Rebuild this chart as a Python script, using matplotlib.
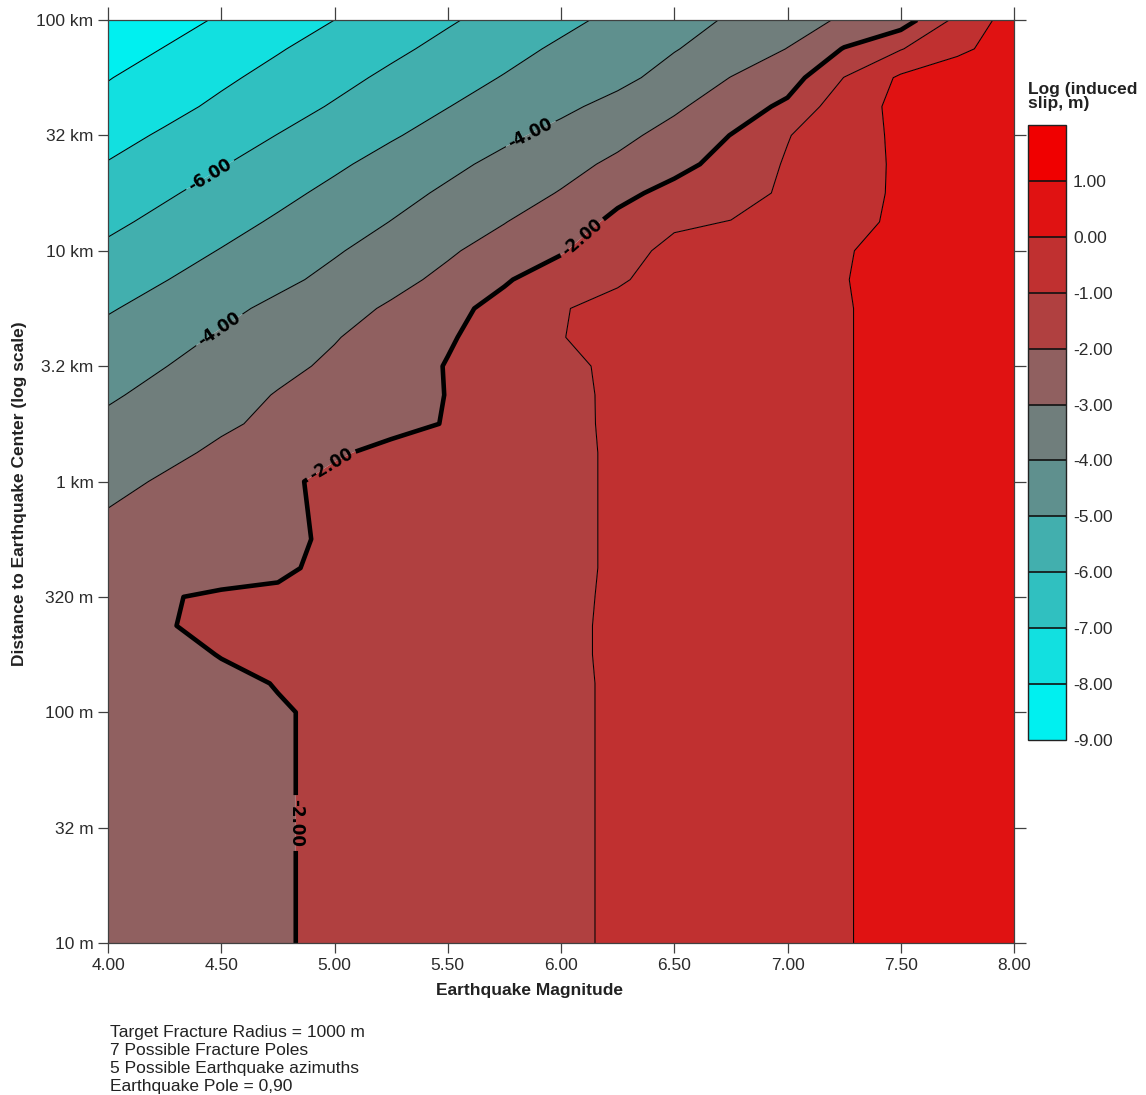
import matplotlib
matplotlib.use("Agg")
import matplotlib.pyplot as plt

plt.rcParams['font.family'] = ['Liberation Sans', 'DejaVu Sans']
plt.rcParams['axes.unicode_minus'] = False
plt.rcParams['contour.negative_linestyle'] = 'solid'

# Earthquake magnitude (columns of the grid)
magnitudes = [4.0, 4.25, 4.5, 4.75, 5.0, 5.25, 5.5, 5.75, 6.0,
              6.25, 6.5, 6.75, 7.0, 7.25, 7.5, 7.75, 8.0]

# log10 of distance to the earthquake centre in metres (rows of the grid)
log_distance = [1.0, 2.0, 2.125, 2.25, 2.375, 2.5, 2.625, 2.75, 2.875,
                3.0, 3.125, 3.25, 3.375, 3.5, 3.625, 3.75, 3.875,
                4.0, 4.125, 4.25, 4.375, 4.5, 4.625, 4.75, 4.875, 5.0]

# log10 of induced slip (m), one row per distance
log_slip = [
    [-2.62, -2.44, -2.25, -2.06, -1.87, -1.68, -1.49, -1.30, -1.12, -0.92, -0.72, -0.50, -0.27, -0.04, 0.20, 0.40, 0.60],
    [-2.62, -2.44, -2.25, -2.06, -1.87, -1.68, -1.49, -1.30, -1.12, -0.92, -0.72, -0.50, -0.27, -0.04, 0.20, 0.40, 0.60],
    [-2.55, -2.38, -2.18, -1.97, -1.80, -1.64, -1.47, -1.30, -1.12, -0.92, -0.72, -0.50, -0.27, -0.04, 0.20, 0.40, 0.60],
    [-2.45, -2.25, -1.97, -1.80, -1.66, -1.52, -1.40, -1.26, -1.10, -0.92, -0.72, -0.50, -0.27, -0.04, 0.20, 0.40, 0.60],
    [-2.35, -2.04, -1.85, -1.72, -1.60, -1.48, -1.37, -1.24, -1.10, -0.92, -0.72, -0.50, -0.27, -0.04, 0.20, 0.40, 0.60],
    [-2.30, -2.01, -1.98, -1.97, -1.85, -1.70, -1.55, -1.38, -1.12, -0.92, -0.72, -0.50, -0.27, -0.04, 0.20, 0.40, 0.60],
    [-2.55, -2.25, -2.06, -2.03, -1.955, -1.80, -1.62, -1.42, -1.13, -0.93, -0.72, -0.50, -0.27, -0.04, 0.20, 0.40, 0.60],
    [-2.78, -2.45, -2.25, -2.10, -1.93, -1.78, -1.60, -1.40, -1.13, -0.93, -0.72, -0.50, -0.27, -0.04, 0.20, 0.40, 0.60],
    [-2.98, -2.62, -2.40, -2.20, -1.82, -1.70, -1.56, -1.38, -1.13, -0.93, -0.72, -0.50, -0.27, -0.04, 0.20, 0.40, 0.60],
    [-3.25, -2.90, -2.52, -2.13, -1.85, -1.70, -1.54, -1.37, -1.13, -0.93, -0.72, -0.50, -0.27, -0.04, 0.20, 0.40, 0.60],
    [-3.50, -3.20, -2.85, -2.45, -2.07, -1.85, -1.65, -1.42, -1.13, -0.93, -0.72, -0.50, -0.27, -0.04, 0.20, 0.40, 0.60],
    [-3.80, -3.45, -3.12, -2.82, -2.50, -2.17, -1.97, -1.60, -1.14, -0.91, -0.72, -0.50, -0.27, -0.04, 0.20, 0.40, 0.60],
    [-4.12, -3.72, -3.35, -2.95, -2.62, -2.30, -1.98, -1.62, -1.15, -0.90, -0.72, -0.50, -0.27, -0.04, 0.20, 0.40, 0.60],
    [-4.42, -4.02, -3.62, -3.22, -2.85, -2.40, -1.96, -1.62, -1.17, -0.85, -0.70, -0.50, -0.27, -0.04, 0.20, 0.40, 0.60],
    [-4.72, -4.32, -3.90, -3.48, -3.05, -2.62, -2.08, -1.62, -1.02, -0.78, -0.62, -0.50, -0.27, -0.04, 0.20, 0.40, 0.60],
    [-5.08, -4.66, -4.22, -3.80, -3.35, -2.88, -2.22, -1.75, -1.04, -0.80, -0.62, -0.50, -0.27, -0.04, 0.20, 0.40, 0.60],
    [-5.45, -5.03, -4.61, -4.20, -3.78, -3.28, -2.78, -2.08, -1.55, -1.08, -0.72, -0.50, -0.27, -0.02, 0.20, 0.40, 0.60],
    [-5.82, -5.40, -4.96, -4.52, -4.08, -3.65, -3.12, -2.60, -2.08, -1.30, -0.80, -0.52, -0.28, -0.04, 0.18, 0.38, 0.58],
    [-6.20, -5.76, -5.33, -4.88, -4.45, -3.98, -3.48, -3.03, -2.45, -1.80, -1.12, -0.98, -0.55, -0.20, 0.12, 0.38, 0.58],
    [-6.55, -6.12, -5.68, -5.24, -4.78, -4.32, -3.85, -3.40, -2.95, -2.22, -1.75, -1.30, -0.88, -0.32, 0.12, 0.40, 0.60],
    [-6.95, -6.50, -6.05, -5.60, -5.15, -4.68, -4.22, -3.75, -3.30, -2.82, -2.25, -1.70, -0.90, -0.35, 0.12, 0.40, 0.60],
    [-7.33, -6.88, -6.43, -5.98, -5.53, -5.09, -4.64, -4.18, -3.72, -3.25, -2.68, -1.98, -1.05, -0.30, 0.12, 0.40, 0.60],
    [-7.72, -7.28, -6.82, -6.37, -5.92, -5.47, -5.02, -4.58, -4.20, -3.70, -3.15, -2.50, -1.80, -0.40, 0.20, 0.42, 0.60],
    [-8.04, -7.60, -7.16, -6.72, -6.27, -5.82, -5.38, -4.95, -4.55, -4.25, -3.65, -2.98, -2.45, -0.98, 0.15, 0.42, 0.60],
    [-8.42, -7.97, -7.52, -7.07, -6.62, -6.19, -5.75, -5.30, -4.85, -4.45, -4.05, -3.55, -2.98, -1.95, -1.05, -0.15, 0.35],
    [-8.80, -8.35, -7.90, -7.45, -7.00, -6.55, -6.10, -5.67, -5.23, -4.78, -4.35, -3.90, -3.42, -2.88, -2.50, -0.75, 0.45],
]

# colour classes for log slip
slip_levels = [-9, -8, -7, -6, -5, -4, -3, -2, -1, 0, 1, 2]
level_colors = ['#00F0F0', '#12E0E0', '#30C0C0', '#42AFAE', '#5F908E', '#707E7C',
                '#906060', '#B04040', '#C03030', '#E01212', '#F00000']
plain_levels = [-8, -7, -5, -3, -1, 0]
labelled_thin_levels = [-6, -4]
bold_level = [-2]
thin_label_spots = [(4.45, 4.33), (5.87, 4.50), (4.49, 3.66)]
bold_label_spots = [(4.98, 3.08), (6.10, 4.05), (4.83, 1.52)]
colorbar_ticks = [-9, -8, -7, -6, -5, -4, -3, -2, -1, 0, 1]

magnitude_ticks = [4.0, 4.5, 5.0, 5.5, 6.0, 6.5, 7.0, 7.5, 8.0]
distance_ticks = [1.0, 1.5, 2.0, 2.5, 3.0, 3.5, 4.0, 4.5, 5.0]
distance_labels = ['10 m', '32 m', '100 m', '320 m', '1 km', '3.2 km',
                   '10 km', '32 km', '100 km']

notes = ['Target Fracture Radius = 1000 m',
         '7 Possible Fracture Poles',
         '5 Possible Earthquake azimuths',
         'Earthquake Pole = 0,90']

W, H = 1146, 1095
fig = plt.figure(figsize=(W / 100, H / 100), dpi=100)
ax = fig.add_axes([108 / W, 1 - 943 / H, 906 / W, 923 / H])

cf = ax.contourf(magnitudes, log_distance, log_slip, levels=slip_levels,
                 colors=level_colors, antialiased=True)

thin = 0.75
ax.contour(magnitudes, log_distance, log_slip, levels=plain_levels,
           colors='black', linewidths=thin, linestyles='solid')
cs_thin = ax.contour(magnitudes, log_distance, log_slip,
                     levels=labelled_thin_levels, colors='black',
                     linewidths=thin, linestyles='solid')
cs_bold = ax.contour(magnitudes, log_distance, log_slip, levels=bold_level,
                     colors='black', linewidths=3.3, linestyles='solid')
with matplotlib.rc_context({'font.family': 'DejaVu Sans',
                            'font.weight': 'bold'}):
    ax.clabel(cs_thin, manual=thin_label_spots, inline=True, fmt='%.2f',
              fontsize=12, colors='black', inline_spacing=4)
    ax.clabel(cs_bold, manual=bold_label_spots, inline=True, fmt='%.2f',
              fontsize=12, colors='black', inline_spacing=4)

ax.set_xlim(4, 8)
ax.set_ylim(1, 5)
ax.set_xticks(magnitude_ticks)
ax.set_xticklabels([f'{m:.2f}' for m in magnitude_ticks])
ax.set_yticks(distance_ticks)
ax.set_yticklabels(distance_labels)

axis_grey = '#404040'
for side in ax.spines.values():
    side.set_color(axis_grey)
    side.set_linewidth(0.9)
ax.tick_params(direction='out', length=7.5, width=0.9, color=axis_grey,
               labelsize=12.5, labelcolor='#2b2b2b', top=True, right=True,
               labeltop=False, labelright=False, pad=3)
for t in ax.xaxis.get_major_ticks():
    t.tick2line.set_markersize(9.5)
for t in ax.yaxis.get_major_ticks():
    t.tick2line.set_markersize(8.5)

fig.text(529.5 / W, 1 - 991 / H, 'Earthquake Magnitude', ha='center',
         va='center', fontsize=12.5, fontweight='bold', color='#222222')
fig.text(20 / W, 1 - 494 / H, 'Distance to Earthquake Center (log scale)',
         ha='center', va='center', rotation=90, fontsize=12.5,
         fontweight='bold', color='#222222')

# colour scale
cax = fig.add_axes([1028 / W, 1 - 740 / H, 38 / W, 615 / H])
cb = fig.colorbar(cf, cax=cax, ticks=colorbar_ticks, drawedges=True)
cb.ax.set_yticklabels([f'{t:.2f}' for t in colorbar_ticks])
cb.ax.tick_params(length=0, labelsize=12.5, labelcolor='#2b2b2b', pad=5)
cb.outline.set_edgecolor('#222222')
cb.outline.set_linewidth(1.0)
cb.dividers.set_color('#111111')
cb.dividers.set_linewidth(1.2)
fig.text(1028 / W, 1 - 82 / H, 'Log (induced\nslip, m)', ha='left', va='top',
         fontsize=12.5, fontweight='bold', color='#222222', linespacing=0.95)

# run parameters
for i, line in enumerate(notes):
    fig.text(110 / W, 1 - (1033 + 17.8 * i) / H, line, ha='left',
             va='center', fontsize=12.5, color='#222222')

fig.savefig('out.png', dpi=100)
